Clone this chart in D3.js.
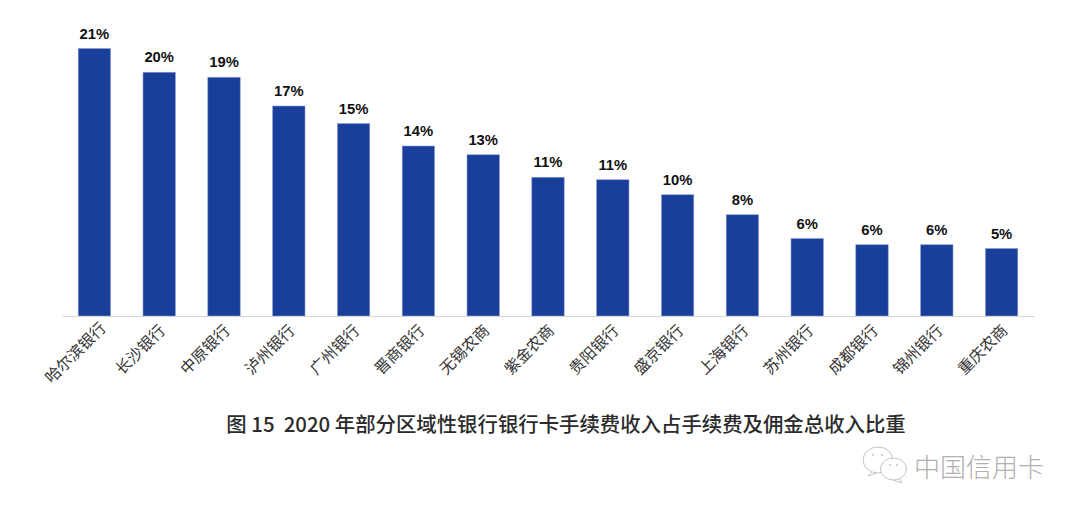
<!DOCTYPE html>
<html>
<head>
<meta charset="utf-8">
<script src="https://cdn.jsdelivr.net/npm/d3@7/dist/d3.min.js"></script>
<style>
  html, body { margin: 0; padding: 0; background: #fff; }
  svg { display: block; }
</style>
</head>
<body>
<script>
var banks = ["哈尔滨银行", "长沙银行", "中原银行", "泸州银行", "广州银行", "晋商银行", "无锡农商", "紫金农商",
             "贵阳银行", "盛京银行", "上海银行", "苏州银行", "成都银行", "锦州银行", "重庆农商"];
var shares = [21.4, 19.5, 19.1, 16.8, 15.4, 13.6, 12.9, 11.1, 10.9, 9.7, 8.1, 6.2, 5.7, 5.7, 5.4];
var chartTitle = "图 15  2020 年部分区域性银行银行卡手续费收入占手续费及佣金总收入比重";
var watermark = "中国信用卡";

var outerWidth = 1080;
var outerHeight = 515;
var margin = { left: 62, top: 48.5, right: 46, bottom: 199 };
var innerWidth = outerWidth - margin.left - margin.right;
var innerHeight = outerHeight - margin.top - margin.bottom;
var cjk = "'Noto Sans CJK SC', 'Noto Sans', sans-serif";

var svg = d3.select("body").append("svg")
  .attr("width", outerWidth)
  .attr("height", outerHeight);

var g = svg.append("g")
  .attr("transform", "translate(" + margin.left + "," + margin.top + ")");

var xScale = d3.scaleBand().domain(banks).range([0, innerWidth]).paddingInner(0.5).paddingOuter(0.25);
var yScale = d3.scaleLinear().domain([0, d3.max(shares)]).range([innerHeight, 0]);

g.selectAll("rect.bar").data(shares).enter().append("rect")
  .attr("class", "bar")
  .attr("x", function (d, i) { return xScale(banks[i]); })
  .attr("y", function (d) { return yScale(d); })
  .attr("width", xScale.bandwidth())
  .attr("height", function (d) { return innerHeight - yScale(d); })
  .attr("fill", "#1a3f9a")
  .attr("stroke", "#8d9fd6")
  .attr("stroke-width", 0.6);

g.selectAll("text.val").data(shares).enter().append("text")
  .attr("class", "val")
  .attr("x", function (d, i) { return xScale(banks[i]) + xScale.bandwidth() / 2; })
  .attr("y", function (d) { return yScale(d) - 10; })
  .attr("text-anchor", "middle")
  .attr("font-family", "'Liberation Sans', Arial, sans-serif")
  .attr("font-size", 14.8)
  .attr("font-weight", "bold")
  .attr("fill", "#111")
  .text(function (d) { return Math.round(d) + "%"; });

var xAxis = g.append("g")
  .attr("transform", "translate(0," + innerHeight + ")")
  .call(d3.axisBottom(xScale).tickSize(0).tickPadding(0));

xAxis.select(".domain").attr("stroke", "#d4d4d4").attr("stroke-width", 1.2);

// labels are centred on a point left of the bar, longer names sit a bit lower
xAxis.selectAll("text")
  .attr("font-family", cjk)
  .attr("font-size", 15.6)
  .attr("fill", "#333")
  .attr("text-anchor", "middle")
  .attr("dy", null)
  .attr("y", null)
  .attr("dominant-baseline", "middle")
  .attr("transform", function (d) {
    return "translate(-18," + (34.5 + (d.length - 4) * 3) + ") rotate(-45)";
  });

svg.append("text")
  .attr("x", 566)
  .attr("y", 432)
  .attr("text-anchor", "middle")
  .attr("font-family", cjk)
  .attr("font-size", 20.4)
  .attr("font-weight", 500)
  .attr("fill", "#2b2b2b")
  .style("white-space", "pre")
  .text(chartTitle);

// wechat style mark next to the account name
var mark = svg.append("g").attr("fill", "#fff").attr("stroke", "#c4c4c4").attr("stroke-width", 1);
mark.append("path").attr("d", "M872 472L868 476L877 473");
mark.append("ellipse").attr("cx", 878).attr("cy", 460).attr("rx", 15).attr("ry", 13);
mark.append("path").attr("d", "M899 478L902 483L893 480");
mark.append("ellipse").attr("cx", 893.5).attr("cy", 469).attr("rx", 13).attr("ry", 11);
mark.selectAll("circle").data([[873, 455], [882, 455], [890, 465], [897, 465]]).enter().append("circle")
  .attr("cx", function (d) { return d[0]; })
  .attr("cy", function (d) { return d[1]; })
  .attr("r", 0.8)
  .attr("fill", "#999")
  .attr("stroke", "none");

svg.append("text")
  .attr("x", 914)
  .attr("y", 477)
  .attr("font-family", cjk)
  .attr("font-size", 26)
  .attr("font-weight", 300)
  .attr("fill", "#b0b0b0")
  .text(watermark);
</script>
</body>
</html>
